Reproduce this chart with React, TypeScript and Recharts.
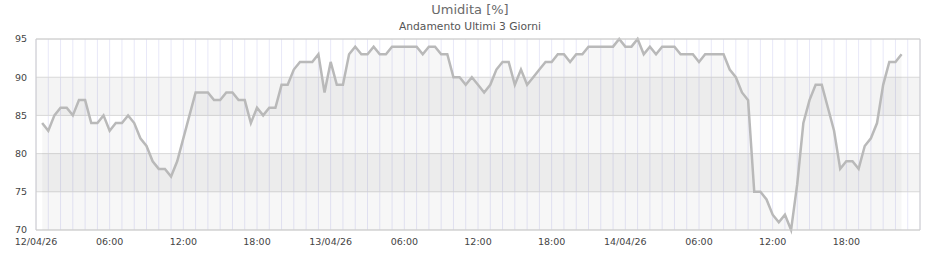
import React from 'react';
import { ComposedChart, Area, XAxis, YAxis, CartesianGrid, ReferenceArea, ReferenceLine } from 'recharts';

// humidity readings every 30 minutes, one array per day
const humidity12Apr = [
  84, 83, 85, 86, 86, 85, 87, 87, 84, 84, 85, 83, 84, 84, 85, 84, 82, 81, 79, 78, 78, 77, 79, 82,
  85, 88, 88, 88, 87, 87, 88, 88, 87, 87, 84, 86, 85, 86, 86, 89, 89, 91, 92, 92, 92, 93, 88,
];
const humidity13Apr = [
  92, 89, 89, 93, 94, 93, 93, 94, 93, 93, 94, 94, 94, 94, 94, 93, 94, 94, 93, 93, 90, 90, 89, 90,
  89, 88, 89, 91, 92, 92, 89, 91, 89, 90, 91, 92, 92, 93, 93, 92, 93, 93, 94, 94, 94, 94, 94, 95,
];
const humidity14Apr = [
  94, 94, 95, 93, 94, 93, 94, 94, 94, 93, 93, 93, 92, 93, 93, 93, 93, 91, 90, 88, 87, 75, 75, 74,
  72, 71, 72, 70, 76, 84, 87, 89, 89, 86, 83, 78, 79, 79, 78, 81, 82, 84, 89, 92, 92, 93,
];

// first reading of each day, in hours since 12/04 00:00
const dayFirstReading = [0.5, 24, 48];
const readingStep = 0.5;

const tickHours = [0, 6, 12, 18, 24, 30, 36, 42, 48, 54, 60, 66];
const tickLabels = ['12/04/26', '06:00', '12:00', '18:00', '13/04/26', '06:00', '12:00', '18:00', '14/04/26', '06:00', '12:00', '18:00'];
const yTicks = [70, 75, 80, 85, 90, 95];
const bandRanges = [[75, 80], [85, 90]];

const days = [humidity12Apr, humidity13Apr, humidity14Apr];
const data = days.flatMap((values, d) =>
  values.map((v, i) => ({ t: dayFirstReading[d] + i * readingStep, v }))
);

// one vertical grid line per hour
const gridHours = Array.from({ length: 73 }, (_, i) => i);

const FONT = '"DejaVu Sans", sans-serif';

export default function App() {
  return (
    <div style={{ position: 'absolute', left: 0, top: 0, width: 940, height: 260, background: '#fff', fontFamily: FONT }}>
      <div style={{ position: 'absolute', top: 2, width: 940, textAlign: 'center', fontSize: 13, color: '#6a6a6a' }}>
        Umidita [%]
      </div>
      <div style={{ position: 'absolute', top: 20, width: 940, textAlign: 'center', fontSize: 10.7, color: '#555' }}>
        Andamento Ultimi 3 Giorni
      </div>
      <ComposedChart width={940} height={260} data={data} margin={{ top: 39, right: 20, bottom: 0, left: 0 }}>
        <CartesianGrid horizontal={false} stroke="#e8e8f8" />
        {bandRanges.map(([a, b]) => (
          <ReferenceArea key={a} y1={a} y2={b} fill="#000" fillOpacity={0.045} stroke="none" ifOverflow="hidden" />
        ))}
        <CartesianGrid vertical={false} stroke="#dedede" />
        <XAxis
          type="number"
          dataKey="t"
          domain={[0, 72]}
          ticks={gridHours}
          interval={0}
          height={30}
          tickSize={0}
          tickMargin={8}
          axisLine={{ stroke: '#ccc' }}
          tickLine={false}
          tick={{ fontSize: 9.5, fill: '#444', fontFamily: FONT }}
          tickFormatter={(h: number) => {
            const k = tickHours.indexOf(h);
            return k >= 0 ? tickLabels[k] : '';
          }}
        />
        <YAxis
          type="number"
          domain={[70, 95]}
          ticks={yTicks}
          width={36}
          tickSize={0}
          tickMargin={9}
          axisLine={{ stroke: '#ccc' }}
          tickLine={false}
          tick={{ fontSize: 9.5, fill: '#444', fontFamily: FONT }}
        />
        <ReferenceLine x={72} stroke="#ccc" />
        <ReferenceLine y={95} stroke="#ccc" />
        <Area
          type="linear"
          dataKey="v"
          stroke="#b9b9b9"
          strokeWidth={2.5}
          fill="#000"
          fillOpacity={0.03}
          dot={false}
          activeDot={false}
          isAnimationActive={false}
        />
      </ComposedChart>
    </div>
  );
}
